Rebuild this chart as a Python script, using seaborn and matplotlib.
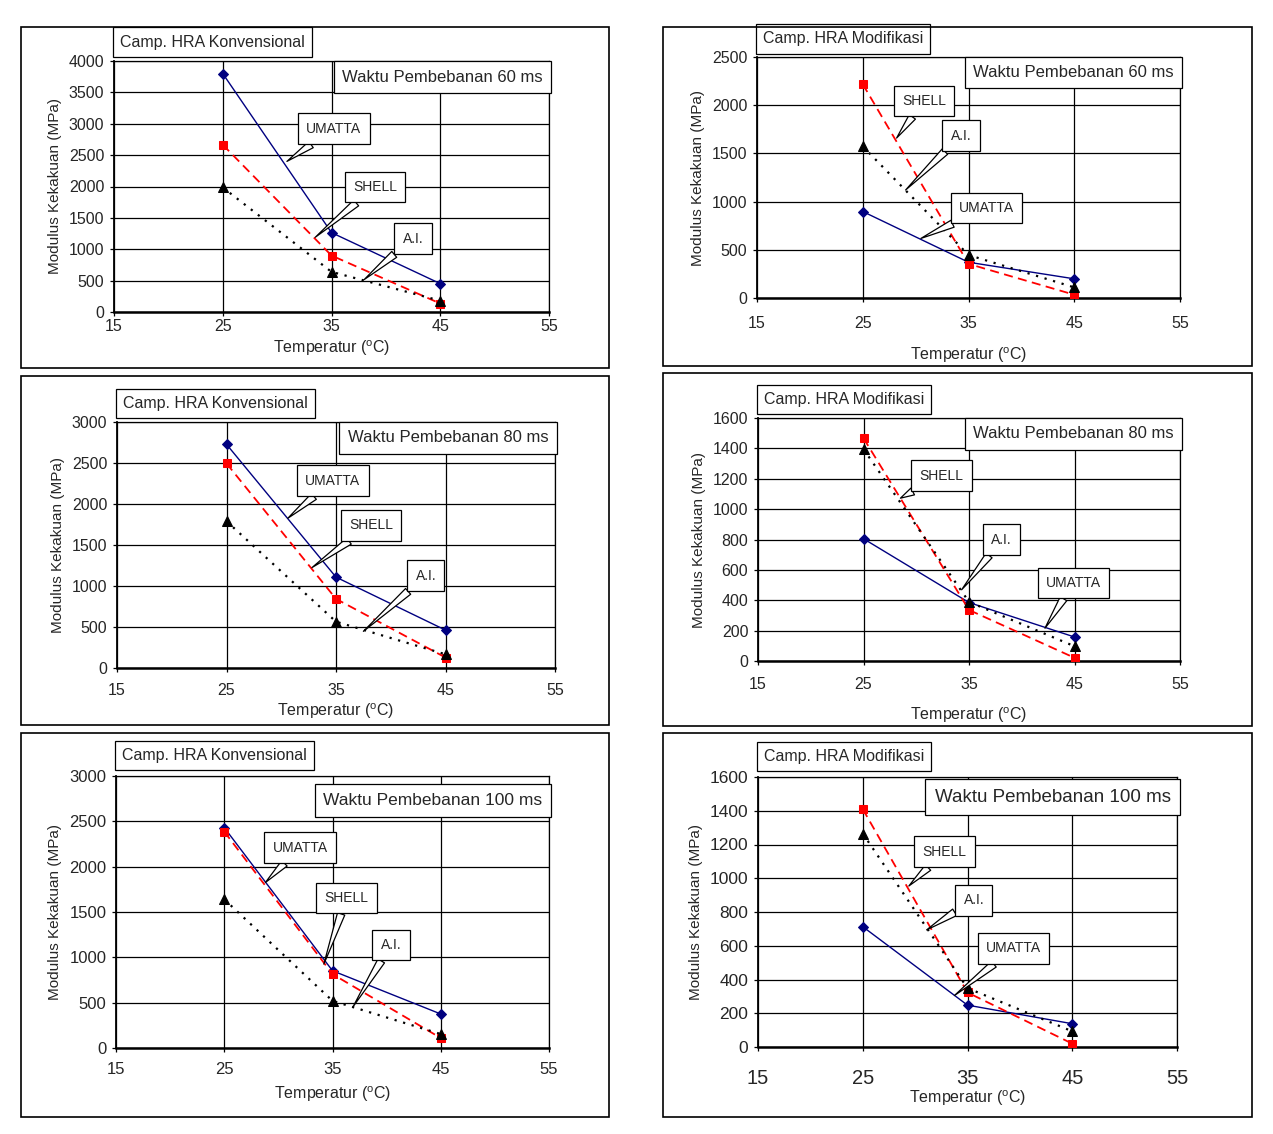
import matplotlib
matplotlib.use('Agg')
import matplotlib.pyplot as plt
import seaborn as sns
import numpy as np
from matplotlib.patches import Rectangle

sns.set_theme(style='white')
plt.rcParams['font.family'] = ['Liberation Sans', 'DejaVu Sans']
plt.rcParams['mathtext.fontset'] = 'custom'
plt.rcParams['mathtext.rm'] = 'Liberation Sans'

# suhu uji
temps = [25, 35, 45]

# Camp. HRA Konvensional
umatta_konv_60 = [3800, 1265, 452]
shell_konv_60 = [2665, 900, 135]
ai_konv_60 = [1985, 640, 180]

umatta_konv_80 = [2728, 1108, 462]
shell_konv_80 = [2495, 843, 128]
ai_konv_80 = [1790, 565, 167]

umatta_konv_100 = [2431, 852, 375]
shell_konv_100 = [2387, 815, 110]
ai_konv_100 = [1640, 520, 154]

# Camp. HRA Modifikasi
umatta_mod_60 = [897, 371, 199]
shell_mod_60 = [2218, 354, 34]
ai_mod_60 = [1573, 446, 110]

umatta_mod_80 = [805, 385, 158]
shell_mod_80 = [1467, 336, 21]
ai_mod_80 = [1395, 389, 97]

umatta_mod_100 = [713, 248, 138]
shell_mod_100 = [1410, 323, 20]
ai_mod_100 = [1265, 349, 93]

W, H = 1273, 1134


def px_rect(x0, y0, x1, y1):
    return [x0 / W, 1 - y1 / H, (x1 - x0) / W, (y1 - y0) / H]


def callout(ax, text, xy_text, xy_tip, fs):
    ax.annotate(text, xy=xy_tip, xytext=xy_text, ha='center', va='center',
                fontsize=fs, zorder=6,
                bbox=dict(boxstyle='square,pad=0.6', fc='white', ec='black', lw=0.9),
                arrowprops=dict(arrowstyle='wedge,tail_width=0.55', fc='white', ec='black',
                                lw=0.9, shrinkA=0, shrinkB=0))


def draw_panel(ax, umatta, shell, ai, ymax, ystep, camp, waktu, notes,
               tick_fs=11.5, waktu_fs=12, waktu_y=0.985, xpad=4, xlabelpad=2):
    sns.lineplot(x=temps, y=umatta, ax=ax, color='#000080', marker='D', markersize=5,
                 linestyle='-', linewidth=1.0, markeredgecolor='#000080', zorder=4)
    sns.lineplot(x=temps, y=shell, ax=ax, color='#ff0000', marker='s', markersize=6,
                 linestyle=(0, (5, 3)), linewidth=1.3, markeredgecolor='#ff0000', zorder=4)
    sns.lineplot(x=temps, y=ai, ax=ax, color='black', marker='^', markersize=7,
                 linestyle=(0, (1, 3)), linewidth=1.6, markeredgecolor='black', zorder=4)

    ax.set_xlim(15, 55)
    ax.set_ylim(0, ymax)
    ax.set_xticks([15, 25, 35, 45, 55])
    ax.set_yticks(np.arange(0, ymax + 1, ystep))
    ax.grid(True, color='black', linewidth=0.9)
    ax.set_axisbelow(True)
    for s in ax.spines.values():
        s.set_color('black')
        s.set_linewidth(0.9)
    ax.spines['bottom'].set_linewidth(1.8)
    ax.spines['left'].set_linewidth(1.3)
    ax.tick_params(axis='both', direction='out', length=3, width=0.9, color='black',
                   labelsize=tick_fs, left=True, bottom=True, pad=4)
    ax.tick_params(axis='x', pad=xpad)
    ax.set_xlabel('Temperatur ($^{\\mathrm{o}}$C)', fontsize=11.5, labelpad=xlabelpad)
    ax.set_ylabel('Modulus Kekakuan (MPa)', fontsize=11, labelpad=5)

    ax.text(0.014, 1.075, camp, transform=ax.transAxes, ha='left', va='center',
            fontsize=11.5, zorder=6,
            bbox=dict(boxstyle='square,pad=0.45', fc='white', ec='black', lw=0.9))
    ax.text(0.985, waktu_y - 0.05, waktu, transform=ax.transAxes, ha='right',
            va='center', fontsize=waktu_fs, zorder=6,
            bbox=dict(boxstyle='square,pad=0.5', fc='white', ec='black', lw=0.9))

    for name, txy, tip in notes:
        callout(ax, name, txy, tip, 10)


fig = plt.figure(figsize=(W / 100, H / 100), dpi=100)

# bingkai tiap grafik
for box in [(21, 27, 609, 368), (663, 27, 1252, 366),
            (21, 376, 609, 725), (663, 373, 1252, 726),
            (21, 733, 609, 1117), (663, 733, 1252, 1117)]:
    r = px_rect(*box)
    fig.patches.append(Rectangle((r[0], r[1]), r[2], r[3], transform=fig.transFigure,
                                 fill=False, ec='black', lw=1.2))

ax1 = fig.add_axes(px_rect(114, 61, 549, 312))
draw_panel(ax1, umatta_konv_60, shell_konv_60, ai_konv_60, 4000, 500,
           'Camp. HRA Konvensional', 'Waktu Pembebanan 60 ms',
           [('UMATTA', (35.2, 2920), (30.9, 2400)),
            ('SHELL', (39.0, 1990), (33.5, 1190)),
            ('A.I.', (42.5, 1170), (38.0, 516))],
           xpad=2, xlabelpad=3.5)

ax2 = fig.add_axes(px_rect(757, 57, 1180, 298))
draw_panel(ax2, umatta_mod_60, shell_mod_60, ai_mod_60, 2500, 500,
           'Camp. HRA Modifikasi', 'Waktu Pembebanan 60 ms',
           [('SHELL', (30.8, 2043), (28.2, 1659)),
            ('A.I.', (34.3, 1683), (29.05, 1120)),
            ('UMATTA', (36.7, 934), (30.5, 618))],
           xpad=10, xlabelpad=10)

ax3 = fig.add_axes(px_rect(117, 422, 555, 668))
draw_panel(ax3, umatta_konv_80, shell_konv_80, ai_konv_80, 3000, 500,
           'Camp. HRA Konvensional', 'Waktu Pembebanan 80 ms',
           [('UMATTA', (34.7, 2285), (30.6, 1826)),
            ('SHELL', (38.2, 1741), (32.8, 1224)),
            ('A.I.', (43.2, 1127), (37.5, 447))],
           xpad=7.5, xlabelpad=3)

ax4 = fig.add_axes(px_rect(758, 418, 1180, 661))
draw_panel(ax4, umatta_mod_80, shell_mod_80, ai_mod_80, 1600, 200,
           'Camp. HRA Modifikasi', 'Waktu Pembebanan 80 ms',
           [('SHELL', (32.4, 1220), (28.5, 1072)),
            ('A.I.', (38.1, 799), (34.3, 469)),
            ('UMATTA', (44.9, 514), (42.2, 216))],
           xpad=8.3, xlabelpad=10)

ax5 = fig.add_axes(px_rect(116, 776, 549, 1048))
draw_panel(ax5, umatta_konv_100, shell_konv_100, ai_konv_100, 3000, 500,
           'Camp. HRA Konvensional', 'Waktu Pembebanan 100 ms',
           [('UMATTA', (32.0, 2211), (28.8, 1825)),
            ('SHELL', (36.3, 1653), (34.2, 925)),
            ('A.I.', (40.4, 1135), (36.9, 455))],
           tick_fs=12, waktu_fs=12.5, waktu_y=0.96, xpad=7, xlabelpad=5.5)

ax6 = fig.add_axes(px_rect(758, 777, 1177, 1047))
draw_panel(ax6, umatta_mod_100, shell_mod_100, ai_mod_100, 1600, 200,
           'Camp. HRA Modifikasi', 'Waktu Pembebanan 100 ms',
           [('SHELL', (32.8, 1157), (29.4, 954)),
            ('A.I.', (35.6, 869), (31.1, 694)),
            ('UMATTA', (39.4, 585), (33.75, 305))],
           tick_fs=12.5, waktu_fs=13.5, waktu_y=0.975, xpad=13, xlabelpad=0)
ax6.tick_params(axis='x', labelsize=14.5)

fig.savefig('out.png', dpi=100)
